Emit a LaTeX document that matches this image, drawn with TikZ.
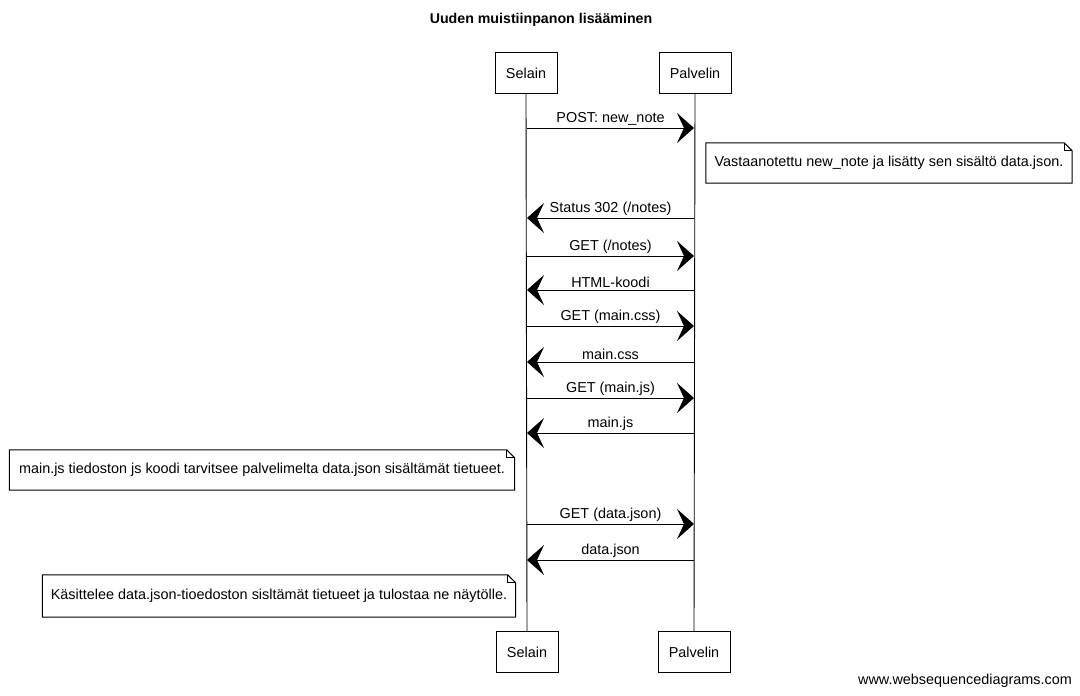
\documentclass[tikz,border=0pt]{standalone}
\usepackage{fontspec}
\setmainfont{Liberation Sans}
\usetikzlibrary{arrows.meta,calc}
\newcommand\notefold[1]{%
  \draw[line width=1pt] (#1.north west) -- ($(#1.north east)+(-8,0)$) -- ($(#1.north east)+(0,8)$) -- (#1.south east) -- (#1.south west) -- cycle;
  \draw[line width=0.8pt] ($(#1.north east)+(-8,0)$) -- ($(#1.north east)+(-8,8)$) -- ($(#1.north east)+(0,8)$);}
\begin{document}
\begin{tikzpicture}[x=1pt,y=-1pt,
  every node/.style={font=\fontsize{14.4}{16}\selectfont},
  actor/.style={draw,line width=1pt,minimum height=41pt,inner sep=0pt},
  notebox/.style={inner sep=0pt},
  msg/.style={line width=1pt,-{Stealth[length=17pt,width=30pt,inset=7pt]}},
  lbl/.style={midway,above=2pt,inner sep=0pt},
  life/.style={line width=0.9pt}]
\useasboundingbox (0,0) rectangle (1080,696);
\fill[white] (0,0) rectangle (1080,696);
\node[font=\fontsize{14.2}{16}\selectfont\bfseries] (title) at (541,20) {Uuden muistiinpanon lisääminen};
% participants
\node[actor,minimum width=62pt] (selTop) at (526,73) {Selain};
\node[actor,minimum width=72pt] (palTop) at (695,73) {Palvelin};
\node[actor,minimum width=62pt] (selBot) at (527,652) {Selain};
\node[actor,minimum width=72pt] (palBot) at (694,652) {Palvelin};
\draw[life] (selTop.south) -- (selBot.north);
\draw[life] (palTop.south) -- (palBot.north);
% message coordinates
\foreach \i/\y in {1/128,2/218,3/256,4/290,5/326,6/362,7/398,8/433,9/524,10/560}{
  \coordinate (S\i) at (527,\y);
  \coordinate (P\i) at (694,\y);
}
\draw[msg] (S1) -- node[lbl]{POST: new\_note} (P1);
\node[notebox,minimum width=366pt,minimum height=40pt] (n1) at (889,163) {Vastaanotettu new\_note ja lisätty sen sisältö data.json.};
\notefold{n1}
\draw[msg] (P2) -- node[lbl]{Status 302 (/notes)} (S2);
\draw[msg] (S3) -- node[lbl]{GET (/notes)} (P3);
\draw[msg] (P4) -- node[lbl]{HTML-koodi} (S4);
\draw[msg] (S5) -- node[lbl]{GET (main.css)} (P5);
\draw[msg] (P6) -- node[lbl]{main.css} (S6);
\draw[msg] (S7) -- node[lbl]{GET (main.js)} (P7);
\draw[msg] (P8) -- node[lbl]{main.js} (S8);
\node[notebox,minimum width=505pt,minimum height=40pt] (n2) at (262,470) {main.js tiedoston js koodi tarvitsee palvelimelta data.json sisältämät tietueet.};
\notefold{n2}
\draw[msg] (S9) -- node[lbl]{GET (data.json)} (P9);
\draw[msg] (P10) -- node[lbl]{data.json} (S10);
\node[notebox,minimum width=473pt,minimum height=42pt] (n3) at (279,596) {Käsittelee data.json-tioedoston sisltämät tietueet ja tulostaa ne näytölle.};
\notefold{n3}
\node[anchor=east,inner sep=0pt] (footer) at (1072,681) {www.websequencediagrams.com};
\end{tikzpicture}
\end{document}
